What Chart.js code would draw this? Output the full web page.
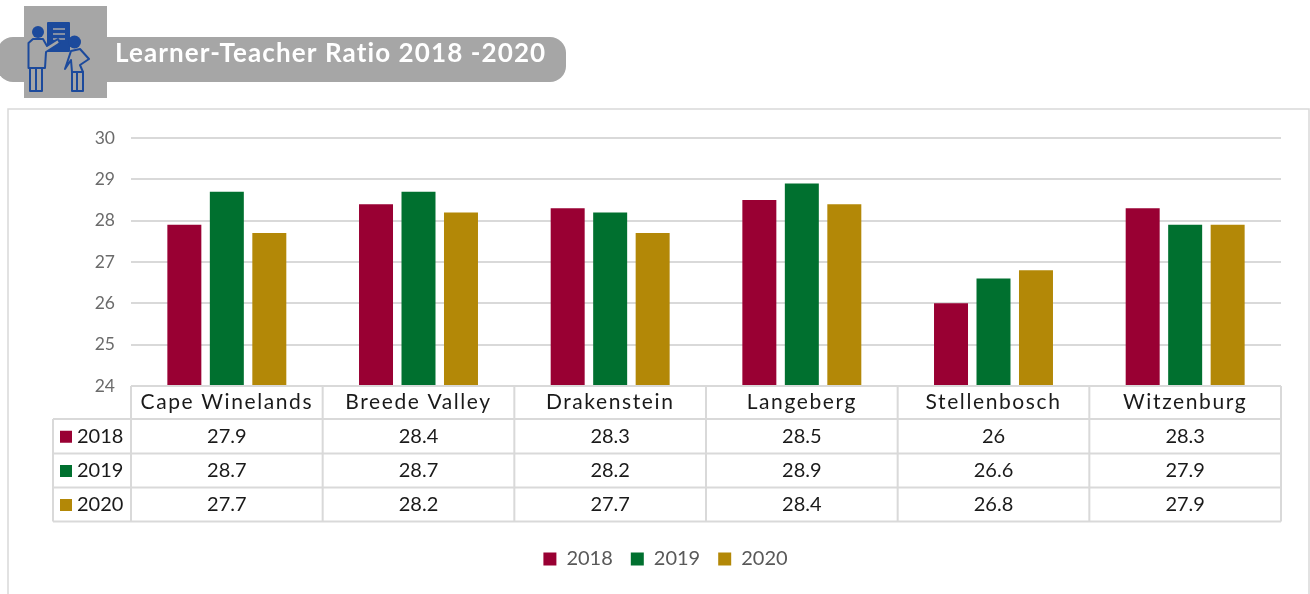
<!DOCTYPE html>
<html><head><meta charset="utf-8">
<style>html,body{margin:0;padding:0;background:#fff;overflow:hidden}#w{position:relative;width:1310px;height:594px}canvas{display:block}</style>
<script src="https://cdn.jsdelivr.net/npm/chart.js@4"></script></head>
<body><div id="w"><canvas id="c" width="1310" height="594"></canvas></div>
<script>
const titleText = "Learner-Teacher Ratio 2018 -2020";
const categories = ["Cape Winelands","Breede Valley","Drakenstein","Langeberg","Stellenbosch","Witzenburg"];
const series2018 = [27.9,28.4,28.3,28.5,26,28.3];
const series2019 = [28.7,28.7,28.2,28.9,26.6,27.9];
const series2020 = [27.7,28.2,27.7,28.4,26.8,27.9];
const seriesNames = ["2018","2019","2020"];
const seriesColors = ["#990033","#00702f","#b38807"];
const yTicks = [24,25,26,27,28,29,30];
const FONT = "Lato";
const GRID = "#d9d9d9";

const decor = {
  id:"decor",
  afterLayout(chart){
    // the reference's legend sits a little right of centre
    chart.legend.left += 25; chart.legend.right += 25;
  },
  beforeDraw(chart){
    const g = chart.ctx;
    // widen the category labels only, to follow the reference's wide typeface
    const xs = chart.scales.x;
    if(!xs.__spaced){
      const orig = xs.drawLabels;
      xs.drawLabels = function(a){ g.letterSpacing="1.6px"; orig.call(this,a); g.letterSpacing="0px"; };
      xs.__spaced = true;
    }
    g.save();
    g.strokeStyle = GRID; g.lineWidth = 1.5;
    g.beginPath(); g.moveTo(8,600); g.lineTo(8,109); g.lineTo(1309,109); g.lineTo(1309,600); g.stroke();
    g.fillStyle = "#a6a6a6";
    g.beginPath(); g.roundRect(-3,37,569,45,16); g.fill();
    g.fillRect(24,6,83,92);
    g.strokeStyle = "#1c4a9c"; g.fillStyle = "#1c4a9c"; g.lineWidth = 2; g.lineJoin = "round";
    g.beginPath(); g.roundRect(47,22,23,30,1); g.fill();
    g.strokeStyle = "#a6a6a6"; g.lineWidth = 1.4;
    g.beginPath();
    [29,34,39].forEach(y=>{g.moveTo(53,y);g.lineTo(65,y);}); g.stroke();
    g.strokeStyle = "#1c4a9c"; g.lineWidth = 2;
    g.beginPath(); g.arc(38,32,6,0,Math.PI*2); g.fill();
    g.fillStyle = "#a6a6a6";
    g.beginPath(); g.moveTo(28.5,68); g.lineTo(28.5,43); g.lineTo(33,39); g.lineTo(43,39); g.lineTo(47,46); g.lineTo(58,39); g.lineTo(60,43); g.lineTo(46,52); g.lineTo(45,68); g.closePath(); g.fill(); g.stroke();
    g.strokeRect(30,68,6,23); g.strokeRect(36,68,6,23);
    g.fillStyle = "#1c4a9c";
    g.beginPath(); g.arc(74.5,42,6.5,0,Math.PI*2); g.fill();
    g.fillStyle = "#a6a6a6";
    g.beginPath(); g.moveTo(65,69); g.lineTo(71,51); g.lineTo(80,49); g.lineTo(89,59); g.lineTo(80,65); g.lineTo(83,72); g.lineTo(72,72); g.lineTo(71,60); g.closePath(); g.fill(); g.stroke();
    g.strokeRect(72,72,5,19); g.strokeRect(77,72,6,19);
    g.fillStyle = "#ffffff"; g.font = "bold 26px "+FONT; g.textAlign="left"; g.textBaseline="middle";
    g.letterSpacing = "1.1px";
    g.fillText(titleText,115,54);
    g.restore();
  },
  afterDatasetsDraw(chart){
    const g = chart.ctx, a = chart.chartArea, x = chart.scales.x;
    const rows = [series2018,series2019,series2020];
    const step = (a.right-a.left)/categories.length;
    const lines = [a.bottom,419,453.5,487.5,521.5];
    g.save();
    g.strokeStyle = GRID; g.lineWidth = 2;
    g.beginPath();
    lines.forEach((y,i)=>{g.moveTo(i===0?a.left:53,y);g.lineTo(a.right,y);});
    g.moveTo(53,419); g.lineTo(53,521.5);
    for(let i=0;i<=categories.length;i++){const px=a.left+i*step; g.moveTo(px,a.bottom); g.lineTo(px,521.5);}
    g.stroke();
    g.font = "20px "+FONT; g.textBaseline="middle";
    rows.forEach((vals,r)=>{
      const y=(lines[r+1]+lines[r+2])/2+0.5;
      g.fillStyle = seriesColors[r]; g.fillRect(60,y-6,12,12);
      g.fillStyle = "#1a1a1a"; g.textAlign="left"; g.fillText(seriesNames[r],77,y);
      g.textAlign="center";
      vals.forEach((v,i)=>g.fillText(String(v),x.getPixelForTick(i),y));
    });
    g.restore();
  }
};

new Chart(document.getElementById("c"),{
  type:"bar",
  plugins:[decor],
  data:{labels:categories,datasets:[
    {label:seriesNames[0],data:series2018,backgroundColor:seriesColors[0]},
    {label:seriesNames[1],data:series2019,backgroundColor:seriesColors[1]},
    {label:seriesNames[2],data:series2020,backgroundColor:seriesColors[2]}
  ]},
  options:{
    responsive:false,animation:false,
    layout:{padding:{left:0,right:29,top:138,bottom:15}},
    datasets:{bar:{barPercentage:0.8,categoryPercentage:0.665}},
    scales:{
      y:{min:24,max:30,
        afterFit(s){s.width=131;},
        afterBuildTicks(s){s.ticks=yTicks.map(v=>({value:v}));},
        grid:{color:GRID,lineWidth:2,drawTicks:false,tickLength:0},
        border:{display:false},
        ticks:{color:"#6b6b6b",font:{family:FONT,size:17.5},padding:16}},
      x:{
        afterFit(s){s.height=145;},
        grid:{display:false,drawTicks:false},border:{display:false},
        ticks:{color:"#1a1a1a",font:{family:FONT,size:21},padding:4,maxRotation:0,autoSkip:false}}
    },
    plugins:{
      tooltip:{enabled:false},
      title:{display:false},
      legend:{position:"bottom",labels:{boxWidth:13,boxHeight:13,color:"#595959",font:{family:FONT,size:20},padding:18}}
    }
  }
});
</script></body></html>
